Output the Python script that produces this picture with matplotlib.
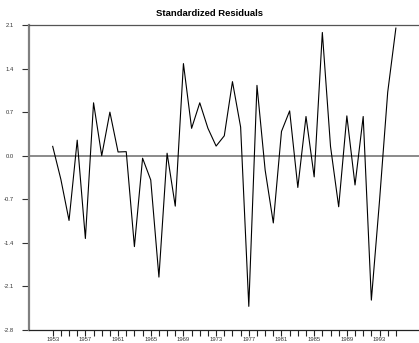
import matplotlib

matplotlib.use("Agg")

import matplotlib.pyplot as plt

plt.rcParams["font.family"] = ["Liberation Sans", "DejaVu Sans"]

# standardized residuals, one per year
years = list(range(1953, 1996))
residuals = [
    0.15, -0.38, -1.04, 0.25, -1.33, 0.85, 0.00, 0.70, 0.06, 0.065,
    -1.46, -0.04, -0.39, -1.95, 0.04, -0.81, 1.48, 0.44, 0.85, 0.44,
    0.155, 0.32, 1.19, 0.46, -2.42, 1.13, -0.23, -1.08, 0.39, 0.72,
    -0.51, 0.63, -0.34, 1.98, 0.15, -0.82, 0.64, -0.47, 0.63, -2.32,
    -0.72, 1.02, 2.05,
]
y_ticks = [-2.8, -2.1, -1.4, -0.7, 0.0, 0.7, 1.4, 2.1]
label_years = list(range(1953, 1996, 4))

fig = plt.figure(figsize=(4.19, 3.43), dpi=100)
ax = fig.add_axes([29 / 419, 13 / 343, 390 / 419, 305 / 343])

ax.axhline(0, color="#777777", lw=1.2, zorder=1)
ax.plot(years, residuals, color="black", lw=0.8, zorder=2)

ax.set_xlim(1950.1, 1997.83)
ax.set_ylim(-2.8, 2.1)

ax.set_yticks(y_ticks)
ax.set_yticklabels([f"{v:.1f}" for v in y_ticks])
ax.set_xticks(years)
ax.set_xticklabels([str(y) if y in label_years else "" for y in years])

ax.tick_params(axis="y", direction="out", length=5, width=0.8, color="#333333",
               labelsize=4.2, labelcolor="#333333", pad=6)
ax.tick_params(axis="x", direction="out", length=4, width=0.8, color="#222222",
               labelsize=4.2, labelcolor="#333333", pad=1)

ax.spines["right"].set_visible(False)
ax.spines["left"].set_color("#808080")
ax.spines["left"].set_linewidth(1.6)
ax.spines["top"].set_color("#555555")
ax.spines["top"].set_linewidth(0.9)
ax.spines["bottom"].set_color("#222222")
ax.spines["bottom"].set_linewidth(0.9)

fig.text(0.5, 1 - 13 / 343, "Standardized Residuals", ha="center", va="center",
         fontsize=6.8, fontweight="bold")

fig.savefig("out.png", dpi=100)
plt.close(fig)
